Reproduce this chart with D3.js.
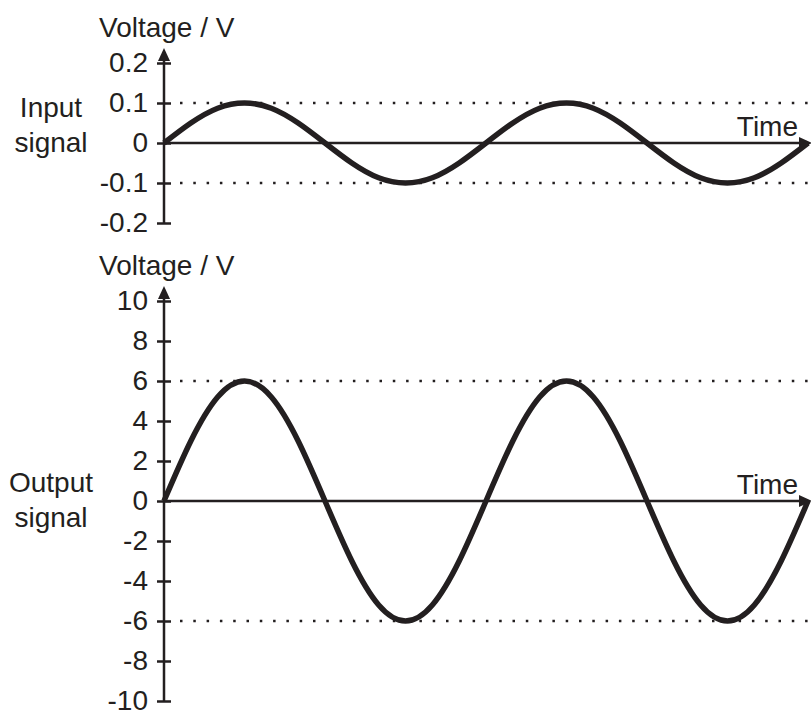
<!DOCTYPE html>
<html>
<head>
<meta charset="utf-8">
<script src="https://cdn.jsdelivr.net/npm/d3@7"></script>
<style>
  body { margin: 0; background: #fff; }
  text { font-family: "Liberation Sans", Arial, sans-serif; fill: #231f20; }
</style>
</head>
<body>
<div id="chart"></div>
<script>
// time steps (30 degree phase steps, two full cycles)
const timeSteps = [0, 1, 2, 3, 4, 5, 6, 7, 8, 9, 10, 11, 12, 13, 14, 15, 16, 17, 18, 19, 20, 21, 22, 23, 24]

const inputVolts = [0, 0.05, 0.087, 0.1, 0.087, 0.05, 0, -0.05, -0.087, -0.1, -0.087, -0.05,
  0, 0.05, 0.087, 0.1, 0.087, 0.05, 0, -0.05, -0.087, -0.1, -0.087, -0.05, 0]

const outputVolts = [0, 3, 5.2, 6, 5.2, 3, 0, -3, -5.2, -6, -5.2, -3,
  0, 3, 5.2, 6, 5.2, 3, 0, -3, -5.2, -6, -5.2, -3, 0]

const inputTicks = [0.2, 0.1, 0, -0.1, -0.2]
const outputTicks = [10, 8, 6, 4, 2, 0, -2, -4, -6, -8, -10]
const inputGuides = [0.1, -0.1]
const outputGuides = [6, -6]

const ink = '#231f20'
const width = 811
const height = 711
const axisX = 164
const fontSize = 28

const svg = d3.select('#chart')
  .append('svg')
  .attr('width', width)
  .attr('height', height)

const x = d3.scaleLinear().domain([0, 24]).range([axisX, 808])

function panel(opts) {
  const y = d3.scaleLinear().domain(opts.domain).range(opts.range)
  const g = svg.append('g')

  // dotted guide lines at the peaks
  g.selectAll('.guide')
    .data(opts.guides)
    .enter()
    .append('line')
    .attr('x1', 180)
    .attr('x2', width)
    .attr('y1', d => y(d))
    .attr('y2', d => y(d))
    .attr('stroke', ink)
    .attr('stroke-width', 2.5)
    .attr('stroke-dasharray', '2.5,10.8')

  // vertical axis
  const axis = d3.axisLeft(y)
    .tickValues(opts.ticks)
    .tickFormat(d => d < 0 ? '-' + Math.abs(d) : String(d))
    .tickSize(7)
    .tickPadding(9)

  const ax = g.append('g')
    .attr('transform', `translate(${axisX},0)`)
    .call(axis)
  ax.select('.domain').remove()
  ax.selectAll('.tick line')
    .attr('x1', 7)
    .attr('x2', -7)
    .attr('stroke', ink)
    .attr('stroke-width', 2.5)
  ax.selectAll('.tick text')
    .attr('font-size', fontSize)
    .attr('font-family', '"Liberation Sans", Arial, sans-serif')
    .attr('fill', ink)
    .attr('dy', '0.3em')

  const top = opts.range[1] - 15
  g.append('line')
    .attr('x1', axisX).attr('x2', axisX)
    .attr('y1', opts.range[0] + 1)
    .attr('y2', top + 8)
    .attr('stroke', ink)
    .attr('stroke-width', 2.5)
  g.append('path')
    .attr('d', `M${axisX},${top} L${axisX - 6},${top + 13} L${axisX + 6},${top + 13} Z`)
    .attr('fill', ink)

  // time axis
  g.append('line')
    .attr('x1', axisX)
    .attr('x2', width - 6)
    .attr('y1', y(0))
    .attr('y2', y(0))
    .attr('stroke', ink)
    .attr('stroke-width', 2.5)
  g.append('path')
    .attr('d', `M${width + 1},${y(0)} L${width - 12},${y(0) - 6} L${width - 12},${y(0) + 6} Z`)
    .attr('fill', ink)

  g.append('text')
    .attr('x', 798)
    .attr('y', y(0) - 7)
    .attr('text-anchor', 'end')
    .attr('font-size', fontSize)
    .text('Time')

  g.append('text')
    .attr('x', 99)
    .attr('y', top - 11)
    .attr('font-size', fontSize)
    .text('Voltage / V')

  g.append('text')
    .attr('x', 51)
    .attr('y', y(0) + opts.nameDy)
    .attr('text-anchor', 'middle')
    .attr('font-size', fontSize)
    .selectAll('tspan')
    .data(opts.name)
    .enter()
    .append('tspan')
    .attr('x', 51)
    .attr('dy', (d, i) => i === 0 ? 0 : 35)
    .text(d => d)

  // signal curve
  const line = d3.line()
    .x((d, i) => x(timeSteps[i]))
    .y(d => y(d))
    .curve(d3.curveNatural)

  g.append('path')
    .datum(opts.values)
    .attr('d', line)
    .attr('fill', 'none')
    .attr('stroke', ink)
    .attr('stroke-width', 5.5)
    .attr('stroke-linejoin', 'round')
}

panel({
  domain: [-0.2, 0.2],
  range: [223, 63],
  ticks: inputTicks,
  guides: inputGuides,
  values: inputVolts,
  name: ['Input', 'signal'],
  nameDy: -26
})

panel({
  domain: [-10, 10],
  range: [701, 301],
  ticks: outputTicks,
  guides: outputGuides,
  values: outputVolts,
  name: ['Output', 'signal'],
  nameDy: -9
})
</script>
</body>
</html>
